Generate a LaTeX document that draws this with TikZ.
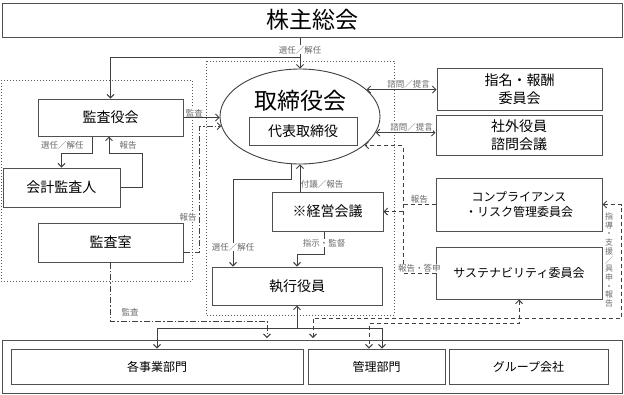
\documentclass[tikz,border=0pt]{standalone}
\usepackage{fontspec}
\setmainfont{Noto Sans CJK JP}
\usetikzlibrary{arrows.meta, positioning, shapes.geometric}

\definecolor{linegray}{HTML}{404040}
\definecolor{boxgray}{HTML}{505050}
\definecolor{labelgray}{HTML}{6A6A6A}

\begin{document}
\begin{tikzpicture}[x=1pt, y=-1pt,
  box/.style={draw=boxgray, line width=1pt, fill=white, inner sep=0pt, align=center, font=\fontsize{14}{18}\selectfont},
  sbox/.style={box, font=\fontsize{12}{15}\selectfont},
  lbl/.style={font=\fontsize{8.5}{9.5}\selectfont, text=labelgray, fill=white, inner sep=0.5pt},
  arr/.style={-{Straight Barb[length=3.5pt,width=7pt]}, draw=linegray, line width=0.9pt},
  arr2/.style={{Straight Barb[length=3.5pt,width=7pt]}-{Straight Barb[length=3.5pt,width=7pt]}, draw=linegray, line width=0.9pt},
  repline/.style={dash pattern=on 4pt off 3pt},
  audline/.style={dash pattern=on 6pt off 2pt on 1.5pt off 2pt},
  zone/.style={draw=black!65, dotted, line width=1pt}]
\fill[white] (0,0) rectangle (624,394);
\useasboundingbox (0,0) rectangle (624,394);

% dotted groups
\draw[zone] (1,80) rectangle (192,281);
\draw[zone] (206,61) rectangle (394,315);

\node[box, minimum width=620pt, minimum height=34pt, font=\fontsize{23}{23}\selectfont] (kabu) at (312,20) {株主総会};

\node[draw=linegray, ellipse, line width=0.9pt, fill=white, minimum width=160pt, minimum height=95pt, inner sep=0pt] (brd) at (300,116.5) {};
\node[font=\fontsize{23}{23}\selectfont] (brdtxt) at (300,101) {取締役会};
\node[box, minimum width=108pt, minimum height=28pt] (rep) at (303,131) {代表取締役};

\node[box, minimum width=145pt, minimum height=37pt] (audb) at (110.5,117.5) {監査役会};
\node[box, minimum width=117pt, minimum height=39pt] (acct) at (61.5,187.5) {会計監査人};
\node[box, minimum width=145pt, minimum height=39pt] (audr) at (110.5,242.5) {監査室};

\node[box, minimum width=111pt, minimum height=39pt] (mgmt) at (327.5,211.5) {※経営会議};
\node[box, minimum width=170pt, minimum height=38pt] (exec) at (297,286) {執行役員};

\node[box, minimum width=165pt, minimum height=42pt] (nom) at (519.5,89) {指名・報酬\\委員会};
\node[box, minimum width=166pt, minimum height=40pt] (adv) at (519,135) {社外役員\\諮問会議};
\node[sbox, minimum width=166pt, minimum height=53pt] (comp) at (519,204.5) {コンプライアンス\\・リスク管理委員会};
\node[sbox, minimum width=166pt, minimum height=52pt] (sus) at (519,273) {サステナビリティ委員会};

\node[box, minimum width=620pt, minimum height=53pt] (org) at (312,366.5) {};
\node[sbox, minimum width=292pt, minimum height=35pt] (biz) at (157,366.5) {各事業部門};
\node[sbox, minimum width=137pt, minimum height=35pt] (adm) at (376.5,366.5) {管理部門};
\node[sbox, minimum width=159pt, minimum height=35pt] (grp) at (528.5,366.5) {グループ会社};

\coordinate (bus) at (403,0);
\coordinate (audin) at (267,338);
\coordinate (gdin) at (313,338);

% shareholders
\draw[arr] (kabu.south -| brd.north) -- node[lbl, pos=0.4] (l1) {選任／解任} (brd.north);
\draw[arr] (brd.north |- 0,57) -| (audb.north);

% audit side
\draw[arr] ([xshift=-18pt]audb.south) -- node[lbl, left=8pt] (l2) {選任／解任} ++(0,17) -| (acct.north);
\draw[arr] (acct.east) -| ++(22,-34.5) -| ([xshift=-1.5pt]audb.south);
\node[lbl] (l3) at (128,145) {報告};
\draw[arr] (audb.east) -- node[lbl, above, pos=0.3] (l4) {監査} (audb.east -| brd.west);
\draw[arr, audline] ([yshift=-10pt]audr.east) -- ++(16,0) |- (brd.187);
\node[lbl] (l5) at (188,217) {報告};
\draw[arr, audline] (audr.south) -- ++(0,59) -| (audin);
\node[lbl] (l6) at (130,312) {監査};

% board and execution
\draw[arr] (brd.260) -- ++(0,15) -| ([xshift=-64pt]exec.north);
\node[lbl] (l7) at (233,247) {選任／解任};
\draw[arr] (mgmt.north -| brd.south) -- node[lbl, right, pos=0.25, fill=none] (l8) {付議／報告} (brd.south);
\draw[arr] ([xshift=-3.5pt]mgmt.south) -- node[lbl] (l9) {指示・監督} ++(0,23) -| (exec.north);

% committees
\draw[arr2] (brd.22) -- node[lbl, above, pos=0.6] (l10) {諮問／提言} (brd.22 -| nom.west);
\draw[arr2] (brd.348) -- node[lbl, above, pos=0.6] (l11) {諮問／提言} (brd.348 -| adv.west);
\draw[arr, repline] (sus.west) -- node[lbl, above] (l12) {報告・答申} (sus.west -| bus) |- (brd.336);
\draw[draw=linegray, line width=0.9pt, repline] (comp.west) -- node[lbl, above] (l13) {報告} (comp.west -| bus);
\draw[arr, repline] (mgmt.east -| bus) -- (mgmt.east);
\draw[arr2, repline] (comp.east) -- ++(19,0) -- ++(0,113.5) -| (gdin);
\node[lbl, align=center, font=\fontsize{8}{8.7}\selectfont] (l14) at (609,260) {指\\導\\・\\支\\援\\／\\具\\申\\・\\報\\告};
\draw[arr2, repline] (sus.south) -- ++(0,24) -| ([xshift=-7.5pt]adm.north);

% execution to departments
\coordinate (hub) at ([yshift=-23pt]exec.south);
\draw[arr] (hub) -- (exec.south);
\draw[arr] (hub) -| (biz.north);
\draw[arr] (hub) -| ([xshift=5.5pt]adm.north);
\end{tikzpicture}
\end{document}
